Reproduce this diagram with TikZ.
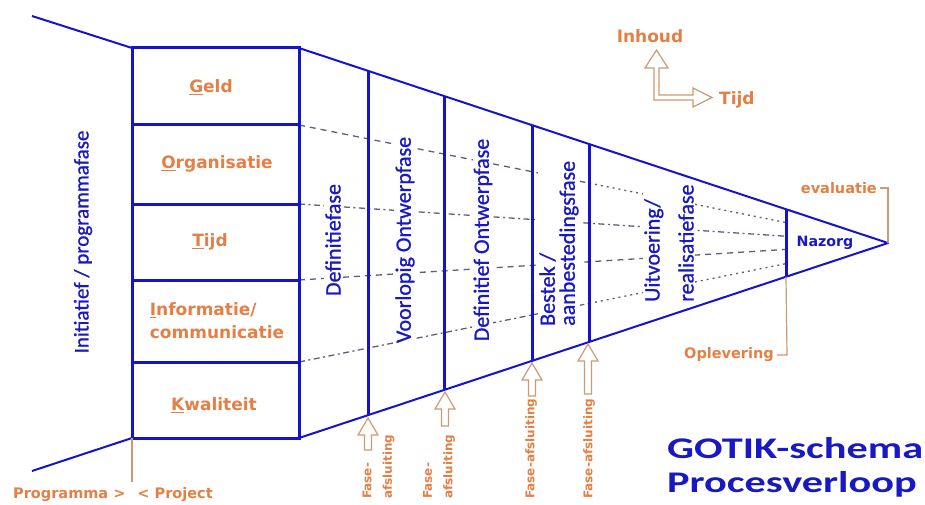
\documentclass[tikz,border=0pt]{standalone}
\usepackage{fontspec}
\setmainfont{Carlito}
\newfontfamily\bluefont{Carlito}[FakeBold=0.9]
\newfontfamily\orfont{DejaVu Sans}
\usetikzlibrary{calc}
\definecolor{gblue}{RGB}{20,20,205}
\definecolor{tblue}{RGB}{25,25,195}
\definecolor{gorange}{RGB}{228,128,70}
\definecolor{gtan}{RGB}{205,155,115}
\definecolor{gdash}{RGB}{95,95,125}
\newcommand{\hollowup}[3]{%
  \draw[hollow] (#1,#2) -- ({#1+10},{#2+17}) -- ({#1+3.5},{#2+17}) -- ({#1+3.5},#3)
    -- ({#1-3.5},#3) -- ({#1-3.5},{#2+17}) -- ({#1-10},{#2+17}) -- cycle;}
\begin{document}
\begin{tikzpicture}[x=1pt,y=-1pt,
  funnel/.style={gblue, line width=2pt, line join=round},
  thickline/.style={gblue, line width=3pt},
  phase/.style={text=tblue, rotate=90, font=\bluefont\fontsize{22}{20}\selectfont, fill=white, inner sep=1pt, align=left},
  rowlabel/.style={text=gorange, font=\orfont\bfseries\fontsize{17}{23}\selectfont, align=left, inner sep=0pt},
  note/.style={text=gorange, font=\orfont\bfseries\fontsize{14.5}{17}\selectfont, inner sep=0pt},
  fasetext/.style={text=gorange, font=\orfont\bfseries\fontsize{12}{20.5}\selectfont, rotate=90, anchor=west, align=left, inner sep=0pt},
  hollow/.style={draw=gtan, line width=1.2pt, fill=white, line join=miter},
  bracket/.style={draw=gtan, line width=1.2pt},
  guide/.style={gdash, line width=1.3pt},
  gdashed/.style={dash pattern=on 6pt off 5pt},
  gdashdot/.style={dash pattern=on 6pt off 3.5pt on 2pt off 3.5pt},
  gdotted/.style={dash pattern=on 2pt off 4pt},
  title/.style={text=tblue, font=\bfseries\fontsize{30}{32}\selectfont, inner sep=0pt, anchor=west}
]
\useasboundingbox (0,0) rectangle (925,505);
\fill[white] (0,0) rectangle (925,505);

% key points
\coordinate (ol) at (32,16);
\coordinate (olb) at (32,471);
\coordinate (tl) at (299,48);
\coordinate (bl) at (299,438);
\coordinate (bxl) at (132,48);
\coordinate (bxlb) at (132,438);
\coordinate (apex) at (888,243);
\coordinate (r1) at (299,125);
\coordinate (r2) at (299,204);
\coordinate (r3) at (299,280);
\coordinate (r4) at (299,362);

% guide lines towards the apex
\draw[guide,gdashed] (r1) -- ($(r1)!0.4924!(apex)$);
\draw[guide,gdotted] ($(r1)!0.4924!(apex)$) -- ($(r1)!0.8268!(apex)$);
\draw[guide,gdashdot] (r2) -- ($(r2)!0.8268!(apex)$);
\draw[guide,gdashed] (r3) -- ($(r3)!0.8268!(apex)$);
\draw[guide,gdashdot] (r4) -- ($(r4)!0.4924!(apex)$);
\draw[guide,gdotted] ($(r4)!0.4924!(apex)$) -- ($(r4)!0.8268!(apex)$);

% funnel outline
\draw[funnel] (ol) -- (bxl);
\draw[funnel] (olb) -- (bxlb);
\draw[funnel] (tl) -- (apex) -- (bl);

% box with rows
\draw[thickline] (bxl) rectangle (bl);
\foreach \yy in {125,204,280,362} \draw[thickline] (132,\yy) -- (299,\yy);

% phase dividers
\foreach \xx in {368,444,532,589,786}
  \draw[thickline] ($(tl)!{(\xx-299)/589}!(apex)$) -- ($(bl)!{(\xx-299)/589}!(apex)$);

% row labels
\node[rowlabel] (geld) at (211,87) {\underline{G}eld};
\node[rowlabel] (org) at (217,164) {\underline{O}rganisatie};
\node[rowlabel] (tijd) at (210,242) {\underline{T}ijd};
\node[rowlabel] (info) at (217,321) {\underline{I}nformatie/\\communicatie};
\node[rowlabel] (kwal) at (214,405) {\underline{K}waliteit};

% phase labels
\node[phase, fill=none, font=\bluefont\fontsize{21}{20}\selectfont] (init) at (83,242) {Initiatief / programmafase};
\node[phase] (def) at (333,240) {Definitiefase};
\node[phase] (vo) at (405,240) {Voorlopig Ontwerpfase};
\node[phase] (do) at (483,240) {Definitief Ontwerpfase};
\node[phase, anchor=west] (best) at (559,327) {Bestek /\\aanbestedingsfase};
\node[phase, anchor=west, font=\bluefont\fontsize{22}{34}\selectfont] (uitv) at (669,303) {Uitvoering/\\realisatiefase};
\node[text=tblue, font=\orfont\bfseries\fontsize{14.2}{17}\selectfont, inner sep=0pt] (naz) at (825,243) {Nazorg};

% axis symbol
\draw[hollow] (654,100) -- (654,68) -- (645,68) -- (656.5,50) -- (668,68) -- (659,68)
  -- (659,95) -- (693,95) -- (693,88) -- (712,97.5) -- (693,107) -- (693,100) -- cycle;
\node[text=gorange, font=\orfont\bfseries\fontsize{17}{20}\selectfont, inner sep=0pt] (inh) at (650,36) {Inhoud};
\node[text=gorange, font=\orfont\bfseries\fontsize{17}{20}\selectfont, inner sep=0pt, anchor=west] (tyd) at (719,100) {Tijd};

% fase-afsluiting arrows and texts
\hollowup{368}{418}{450}
\hollowup{445}{392}{426}
\hollowup{532}{363}{396}
\hollowup{588}{344}{394}
\node[fasetext] (fa1) at (378.5,499) {Fase-\\afsluiting};
\node[fasetext] (fa2) at (439,499) {Fase-\\afsluiting};
\node[fasetext] (fa3) at (531,499) {Fase-afsluiting};
\node[fasetext] (fa4) at (589,499) {Fase-afsluiting};

% evaluation and delivery
\node[note, anchor=east] (eval) at (877,188) {evaluatie};
\draw[bracket] (eval.east) ++(3,0) -- (888,188) -- (apex);
\node[note, anchor=east] (opl) at (774,355) {Oplevering};
\coordinate (nzb) at ($(bl)!{487/589}!(apex)$);
\draw[bracket] (opl.east) ++(3,0) -- (787,355) -- (nzb);

% programma / project
\draw[bracket] (bxlb) -- (132,482);
\node[note, anchor=west] (prog) at (13,495) {Programma >\hspace{12pt}< Project};

% title
\node[title] (t1) at (667,448) {\scalebox{1.41}[1]{GOTIK-schema}};
\node[title] (t2) at (667,484) {\scalebox{1.41}[1]{Procesverloop}};
\end{tikzpicture}
\end{document}
